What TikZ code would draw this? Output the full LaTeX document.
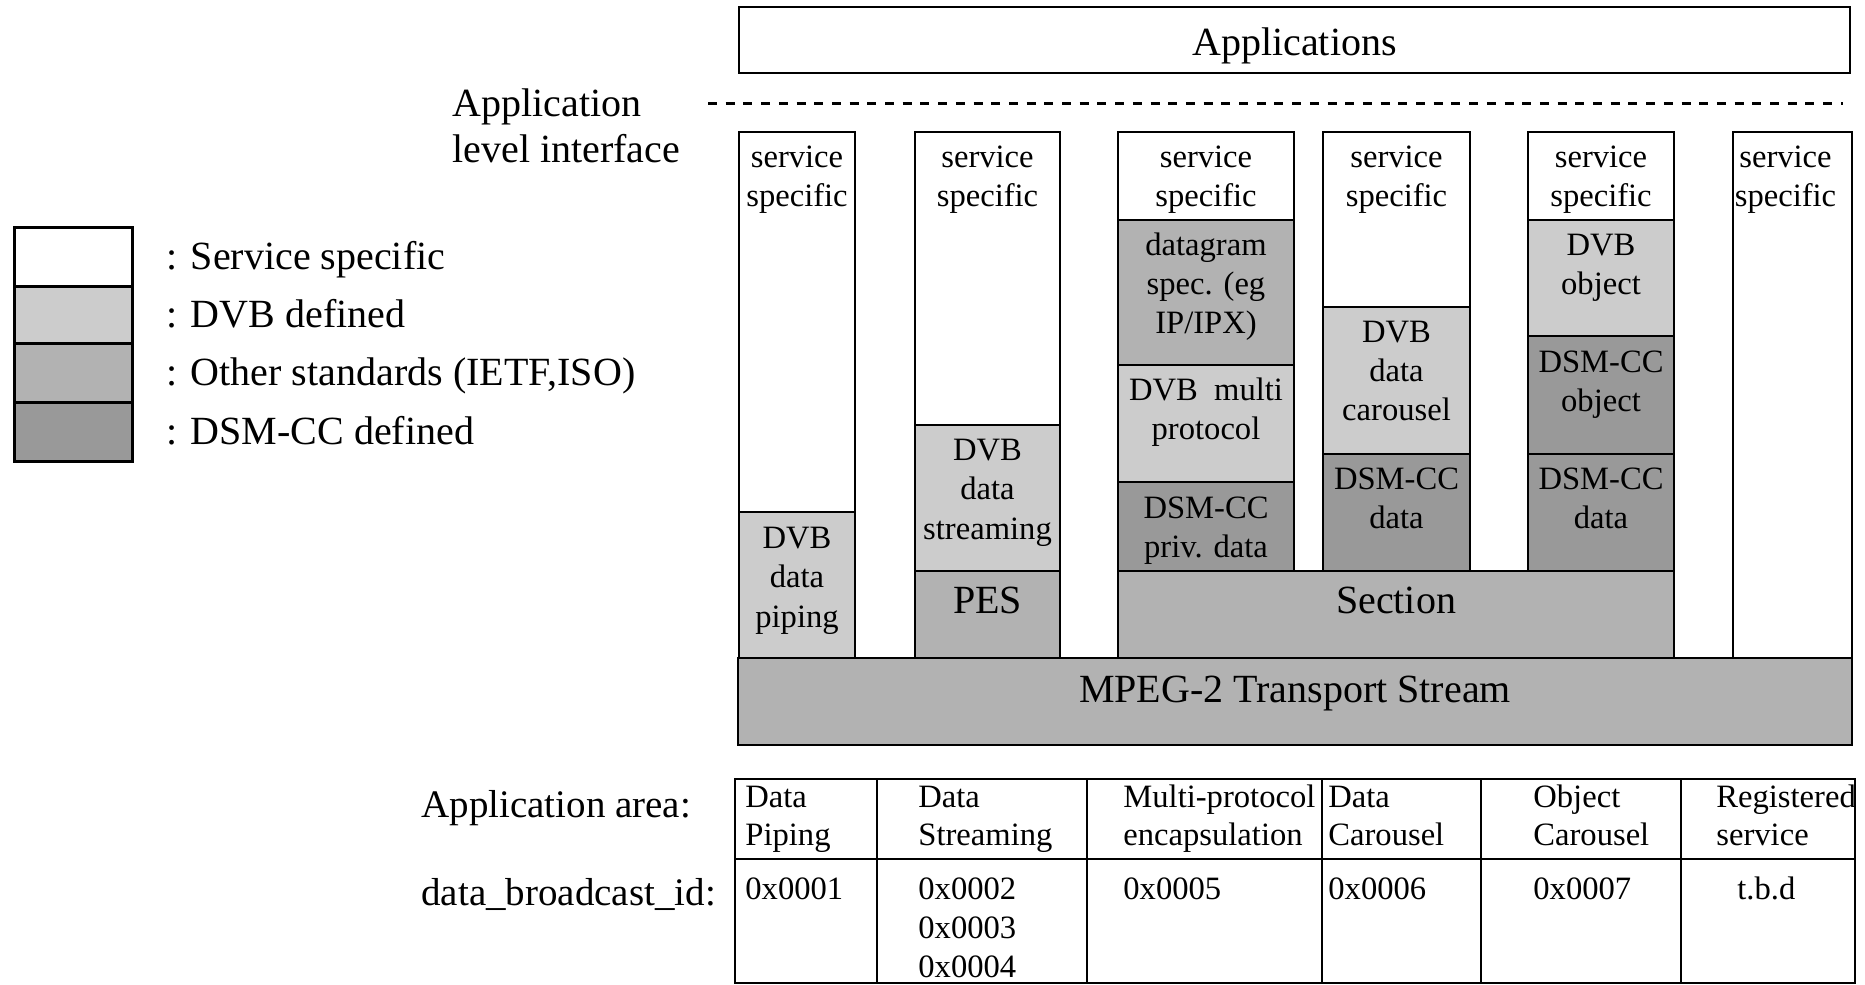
\documentclass[tikz,border=0pt]{standalone}
\usepackage{fontspec}
\setmainfont{Liberation Serif}
\usetikzlibrary{fit,calc}
\definecolor{dvbgray}{gray}{0.8}
\definecolor{othgray}{gray}{0.7}
\definecolor{dsmgray}{gray}{0.6}
\newcommand\bigf{\fontsize{20}{24}\selectfont}
\newcommand\blkf{\fontsize{16.3}{19.3}\selectfont}
\newcommand\tabf{\fontsize{16.3}{19.5}\selectfont}
\newcommand\lblf{\fontsize{19.5}{23.5}\selectfont}
% #1 style, #2 name, #3 x, #4 first baseline y, #5 line spacing, #6 lines
\newcommand\stack[6]{\foreach \stxt [count=\i] in {#6} {\node[#1] (#2-\i) at ({#3},{#4+(\i-1)*#5}) {\stxt};}}
\tikzset{
  box/.style={draw, line width=1.25pt, inner sep=0pt, outer sep=0pt},
  ssbox/.style={box, fill=white},
  dvbbox/.style={box, fill=dvbgray},
  othbox/.style={box, fill=othgray},
  dsmbox/.style={box, fill=dsmgray},
  legbox/.style={draw, line width=1.5pt, inner sep=0pt, outer sep=0pt},
  btxt/.style={anchor=base, inner sep=0pt, font=\blkf},
  bigtxt/.style={anchor=base, inner sep=0pt, font=\bigf},
  legtxt/.style={anchor=base west, inner sep=0pt, font=\bigf},
  ttxt/.style={anchor=base west, inner sep=0pt, font=\tabf},
  tline/.style={line width=1pt},
  ifline/.style={line width=1.5pt, dash pattern=on 4.5pt off 4.35pt}
}
\begin{document}
\begin{tikzpicture}[x=0.5pt,y=-0.5pt]
\useasboundingbox (0,0) rectangle (1865,985);
\fill[white] (0,0) rectangle (1865,985);

% Applications
\node[ssbox, line width=1.4pt, fit={(739,7) (1850,73)}] (apps) {};
\node[bigtxt] (appst) at (1294.5,55.5) {Applications};

% interface line
\coordinate (dl) at (708,103);
\coordinate (dr) at (1843,103);
\draw[ifline] (dl) -- (dr);
\stack{legtxt}{ali}{452}{116}{46.5}{Application,level interface}

% legend
\node[legbox, fill=white, fit={(14,227) (132,286)}] (lg1) {};
\node[legbox, fill=dvbgray, fit={(14,286) (132,343)}] (lg2) {};
\node[legbox, fill=othgray, fit={(14,343) (132,402)}] (lg3) {};
\node[legbox, fill=dsmgray, fit={(14,402) (132,461)}] (lg4) {};
\node[legtxt] (lt1) at (166,269.5) {: Service specific};
\node[legtxt] (lt2) at (166,327.5) {: DVB defined};
\node[legtxt] (lt3) at (166,385.5) {: Other standards (IETF,ISO)};
\node[legtxt] (lt4) at (166,444.5) {: DSM-CC defined};

% column 1
\node[ssbox, fit={(739,132) (855,512)}] (c1s) {};
\node[dvbbox, fit={(739,512) (855,658)}] (c1d) {};
% column 2
\node[ssbox, fit={(915,132) (1060,425)}] (c2s) {};
\node[dvbbox, fit={(915,425) (1060,571)}] (c2d) {};
\node[othbox, fit={(915,571) (1060,658)}] (c2p) {};
% column 3
\node[ssbox, fit={(1118,132) (1294,220)}] (c3s) {};
\node[othbox, fit={(1118,220) (1294,365)}] (c3g) {};
\node[dvbbox, fit={(1118,365) (1294,482)}] (c3m) {};
\node[dsmbox, fit={(1118,482) (1294,571)}] (c3p) {};
% column 4
\node[ssbox, fit={(1323,132) (1470,307)}] (c4s) {};
\node[dvbbox, fit={(1323,307) (1470,454)}] (c4c) {};
\node[dsmbox, fit={(1323,454) (1470,571)}] (c4d) {};
% column 5
\node[ssbox, fit={(1528,132) (1674,220)}] (c5s) {};
\node[dvbbox, fit={(1528,220) (1674,336)}] (c5o) {};
\node[dsmbox, fit={(1528,336) (1674,454)}] (c5j) {};
\node[dsmbox, fit={(1528,454) (1674,571)}] (c5d) {};
% column 6
\node[ssbox, fit={(1733,132) (1852,658)}] (c6s) {};
% section and transport stream
\node[othbox, fit={(1118,571) (1674,658)}] (sec) {};
\node[othbox, line width=1.4pt, fit={(738,658) (1852,745)}] (ts) {};

% block texts
\stack{btxt}{t1s}{797}{167}{39.5}{service,specific}
\stack{btxt}{t1d}{797}{548}{39.5}{DVB,data,piping}
\stack{btxt}{t2s}{987.5}{167}{39.5}{service,specific}
\stack{btxt}{t2d}{987.5}{460}{39.5}{DVB,data,streaming}
\node[bigtxt] (t2p) at (987.5,613) {PES};
\stack{btxt}{t3s}{1206}{167}{39.5}{service,specific}
\stack{btxt}{t3g}{1206}{255}{39}{datagram,spec. (eg,IP/IPX)}
\stack{btxt}{t3m}{1206}{400}{39}{DVB~ multi,protocol}
\stack{btxt}{t3p}{1206}{518}{39}{DSM-CC,priv. data}
\stack{btxt}{t4s}{1396.5}{167}{39.5}{service,specific}
\stack{btxt}{t4c}{1396.5}{342}{39}{DVB,data,carousel}
\stack{btxt}{t4d}{1396.5}{489}{39}{DSM-CC,data}
\stack{btxt}{t5s}{1601}{167}{39.5}{service,specific}
\stack{btxt}{t5o}{1601}{255}{39}{DVB,object}
\stack{btxt}{t5j}{1601}{372}{39}{DSM-CC,object}
\stack{btxt}{t5d}{1601}{489}{39}{DSM-CC,data}
\stack{btxt}{t6s}{1785.5}{167}{39.5}{service,specific}
\node[bigtxt] (tsec) at (1396,613) {Section};
\node[bigtxt] (tts) at (1295,702) {MPEG-2 Transport Stream};

% table
\node[draw, line width=1.2pt, inner sep=0pt, outer sep=0pt, fit={(735,779) (1855,983)}] (tab) {};
\coordinate (r0) at (735,859);
\coordinate (r1) at (1855,859);
\draw[tline] (r0) -- (r1);
\foreach \cx/\cn in {877/a,1087/b,1322/c,1481/d,1681/e}{
  \coordinate (v\cn t) at (\cx,779);
  \coordinate (v\cn b) at (\cx,983);
  \draw[tline] (v\cn t) -- (v\cn b);
}
\node[anchor=base west, inner sep=0pt, font=\lblf] (aa) at (421,817) {Application area:};
\node[anchor=base west, inner sep=0pt, font=\lblf] (dbi) at (421,905) {data\_broadcast\_id:};

\stack{ttxt}{a1}{745}{807}{38}{Data,Piping}
\stack{ttxt}{a2}{918}{807}{38}{Data,Streaming}
\stack{ttxt}{a3}{1123}{807}{38}{Multi-protocol,encapsulation}
\stack{ttxt}{a4}{1328}{807}{38}{Data,Carousel}
\stack{ttxt}{a5}{1533}{807}{38}{Object,Carousel}
\stack{ttxt}{a6}{1716}{807}{38}{Registered,service}

\stack{ttxt}{b1}{745}{899}{39}{0x0001}
\stack{ttxt}{b2}{918}{899}{39}{0x0002,0x0003,0x0004}
\stack{ttxt}{b3}{1123}{899}{39}{0x0005}
\stack{ttxt}{b4}{1328}{899}{39}{0x0006}
\stack{ttxt}{b5}{1533}{899}{39}{0x0007}
\stack{ttxt}{b6}{1737}{899}{39}{t.b.d}
\end{tikzpicture}
\end{document}
